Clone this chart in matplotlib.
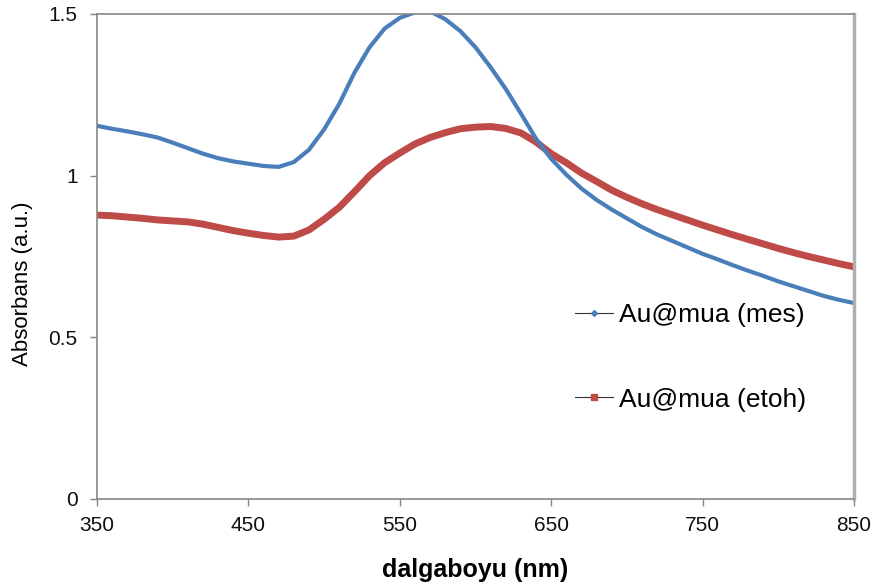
import numpy as np
import matplotlib.pyplot as plt
from matplotlib.lines import Line2D

plt.rcParams['font.family'] = ['Liberation Sans', 'DejaVu Sans']

# wavelength (nm)
wl = np.arange(350, 851, 10)

# Au@mua (mes)
mes = [1.154, 1.145, 1.137, 1.128, 1.118, 1.102, 1.085, 1.068, 1.054, 1.044,
       1.037, 1.030, 1.027, 1.042, 1.080, 1.143, 1.222, 1.318, 1.397, 1.455,
       1.488, 1.505, 1.508, 1.484, 1.447, 1.397, 1.335, 1.268, 1.192, 1.114,
       1.052, 1.003, 0.960, 0.925, 0.895, 0.868, 0.841, 0.818, 0.798, 0.778,
       0.758, 0.741, 0.723, 0.706, 0.690, 0.673, 0.658, 0.643, 0.628, 0.616,
       0.606]

# Au@mua (etoh)
etoh = [0.878, 0.876, 0.872, 0.868, 0.863, 0.860, 0.857, 0.850, 0.840, 0.830,
        0.822, 0.815, 0.810, 0.813, 0.832, 0.865, 0.902, 0.950, 1.000, 1.040,
        1.070, 1.098, 1.118, 1.133, 1.145, 1.150, 1.152, 1.146, 1.132, 1.104,
        1.068, 1.040, 1.008, 0.982, 0.955, 0.933, 0.913, 0.895, 0.879, 0.863,
        0.847, 0.832, 0.817, 0.803, 0.789, 0.775, 0.762, 0.750, 0.739, 0.728,
        0.718]

blue = '#4a7ebb'
red = '#be4b48'
grey = '#868686'

fig = plt.figure(figsize=(8.77, 5.88), dpi=100)
ax = fig.add_axes([0.1106, 0.1514, 0.8632, 0.8248])

ax.plot(wl, etoh, color=red, lw=5.0, solid_capstyle='butt')
ax.plot(wl, mes, color=blue, lw=3.0, solid_capstyle='butt')

ax.set_xlim(350, 850)
ax.set_ylim(0, 1.5)
ax.set_xticks([350, 450, 550, 650, 750, 850])
ax.set_yticks([0, 0.5, 1, 1.5])
ax.set_yticklabels(['0', '0.5', '1', '1.5'])

for s in ax.spines.values():
    s.set_color(grey)
    s.set_linewidth(1.2)
ax.spines['right'].set_color('#b0b0b0')
ax.spines['right'].set_linewidth(2.5)

ax.tick_params(axis='both', direction='out', length=5, width=1, color=grey,
               labelsize=15, labelcolor='#111111')
ax.tick_params(axis='x', pad=7)
ax.tick_params(axis='y', pad=9)

ax.set_xlabel('dalgaboyu (nm)', fontsize=18, fontweight='bold', labelpad=17)
ax.set_ylabel('Absorbans (a.u.)', fontsize=16)
ax.yaxis.set_label_coords(-0.0845, 0.443)

handles = [
    Line2D([], [], color='#333333', lw=0.8, marker='D', markersize=3,
           markerfacecolor=blue, markeredgecolor=blue),
    Line2D([], [], color='#333333', lw=0.8, marker='s', markersize=5,
           markerfacecolor=red, markeredgecolor=red),
]
ax.legend(handles, ['Au@mua (mes)', 'Au@mua (etoh)'], loc='center left',
          bbox_to_anchor=(0.6, 0.292), frameon=False, fontsize=19,
          labelspacing=2.3, handlelength=1.45, handletextpad=0.2)

fig.savefig('out.png', dpi=100)
